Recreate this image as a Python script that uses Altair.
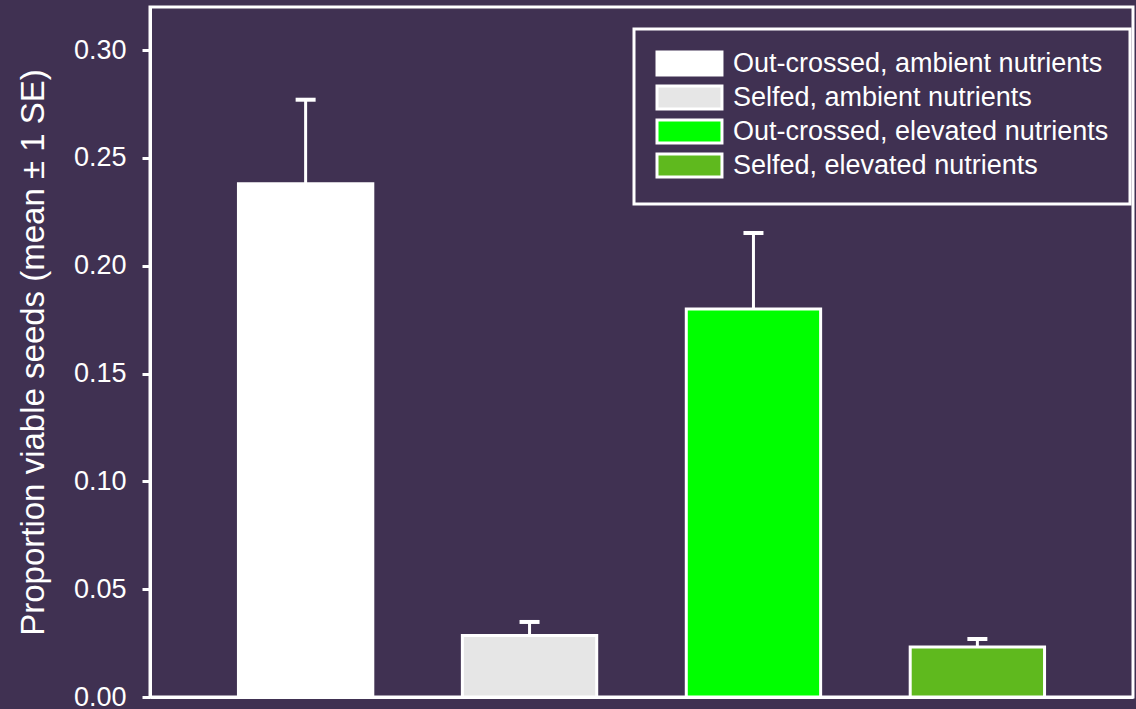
import altair as alt
import pandas as pd

groups = [
    "Out-crossed, ambient nutrients",
    "Selfed, ambient nutrients",
    "Out-crossed, elevated nutrients",
    "Selfed, elevated nutrients",
]
means = [0.238, 0.0285, 0.180, 0.0232]
ses = [0.039, 0.0063, 0.0352, 0.0037]
colors = ["#ffffff", "#e6e6e6", "#00ff00", "#5fb91e"]
y_ticks = [0.00, 0.05, 0.10, 0.15, 0.20, 0.25, 0.30]

BG = "#403152"
FONT = "Liberation Sans"

df = pd.DataFrame({"group": groups, "mean": means, "se": ses})

x_enc = alt.X(
    "group:N",
    sort=groups,
    scale=alt.Scale(paddingInner=0.4, paddingOuter=0.395),
    axis=alt.Axis(labels=False, ticks=False, title=None, domainColor="white", domainWidth=3),
)
y_scale = alt.Scale(domain=[0, 0.32], nice=False, zero=True)

base = alt.Chart(df).transform_calculate(upper="datum.mean + datum.se")

rules = base.mark_rule(color="white", strokeWidth=3, opacity=1).encode(
    x=x_enc,
    y=alt.Y("mean:Q", scale=y_scale),
    y2="upper:Q",
)

bars = base.mark_bar(stroke="white", strokeWidth=3, opacity=1).encode(
    x=x_enc,
    y=alt.Y(
        "mean:Q",
        scale=y_scale,
        axis=alt.Axis(
            values=y_ticks,
            format=".2f",
            title="Proportion viable seeds (mean ± 1 SE)",
            domainColor="white",
            domainWidth=3,
            tickColor="white",
            tickWidth=3,
            tickSize=8,
            labelPadding=16,
            labelColor="white",
            labelFont=FONT,
            labelFontSize=27,
            titleColor="white",
            titleFont=FONT,
            titleFontSize=33,
            titleFontWeight="normal",
            titlePadding=23,
            grid=False,
        ),
    ),
    color=alt.Color(
        "group:N",
        scale=alt.Scale(domain=groups, range=colors),
        legend=alt.Legend(
            title=None,
            orient="none",
            legendX=484,
            legendY=22,
            fillColor=BG,
            strokeColor="white",
            padding=21,
            symbolType="M-1,-1H4.65V1H-1Z",
            symbolSize=529,
            symbolStrokeColor="white",
            symbolStrokeWidth=3,
            symbolOpacity=1,
            labelColor="white",
            labelFont=FONT,
            labelFontSize=27,
            labelOffset=51,
            labelLimit=600,
            rowPadding=-1,
        ),
    ),
)

caps = base.mark_tick(color="white", orient="horizontal", size=20, thickness=4, opacity=1).encode(
    x=x_enc,
    y=alt.Y("upper:Q", scale=y_scale),
)

chart = (
    alt.layer(rules, bars, caps)
    .properties(
        width=983,
        height=690,
        background=BG,
        autosize=alt.AutoSizeParams(type="none"),
        padding={"left": 150, "top": 7, "right": 3, "bottom": 12},
    )
    .configure_view(stroke="white", strokeWidth=3, fill=BG)
    .configure_legend(strokeWidth=3)
)

chart.save("out.html", embed_options={"renderer": "svg", "actions": False})
